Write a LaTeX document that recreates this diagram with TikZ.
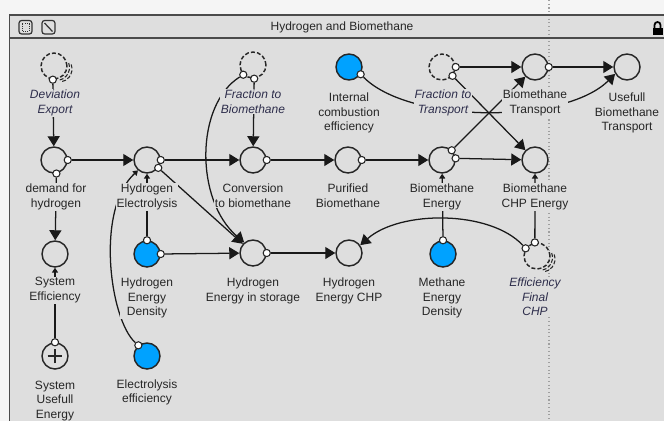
\documentclass[tikz,border=0pt]{standalone}
\usepackage{fontspec}
\setmainfont{Liberation Sans}
\usepackage{xcolor}
\usepackage{tikz}
\usetikzlibrary{arrows.meta}

\definecolor{canvas}{RGB}{222,222,222}
\definecolor{outside}{RGB}{245,245,245}
\definecolor{frameline}{RGB}{75,75,75}
\definecolor{valblue}{RGB}{0,162,255}
\definecolor{ghosttext}{RGB}{45,45,75}
\pgfdeclarelayer{bg}
\pgfdeclarelayer{edges}
\pgfsetlayers{bg,edges,main}
\newcommand{\lblfont}{\fontsize{9}{10.9}\selectfont}

\tikzset{
  var/.style={circle, draw=black!85, line width=1.1pt, minimum size=19.5pt, inner sep=0pt, fill=canvas},
  valvar/.style={var, fill=valblue},
  ghost/.style={var, dash pattern=on 3pt off 1.6pt},
  port/.style={circle, draw=black!85, line width=0.8pt, fill=white, minimum size=5.4pt, inner sep=0pt},
  lbl/.style={font=\lblfont, align=center, fill=canvas, inner sep=0.6pt, anchor=north, text=black!85},
  glbl/.style={lbl, font=\lblfont\itshape, text=ghosttext},
  link/.style={line width=0.95pt, draw=black!90, -{Triangle[length=7.5pt,width=9pt]}},
  slink/.style={line width=0.95pt, draw=black!90, -{Triangle[length=3.6pt,width=4.5pt]}},
  ghostarc/.style={line width=0.8pt, draw=black!85, dash pattern=on 3pt off 1.4pt},
}

\begin{document}
\begin{tikzpicture}[x=0.75pt, y=-0.75pt]
  \useasboundingbox (0,0) rectangle (664,421);

  % window frame
  \begin{pgfonlayer}{bg}
    \fill[outside] (0,0) rectangle (664,421);
    \fill[canvas] (9.5,15) rectangle (670,430);
    \draw[gray!75, line width=0.8pt, dotted] (549,0) -- (549,421);
    \draw[frameline, line width=1.2pt] (9.5,430) |- (670,15);
    \draw[frameline, line width=1.2pt] (9.5,38) -- (670,38);
  \end{pgfonlayer}
  \node[font=\lblfont, text=black!85] (title) at (342,27) {Hydrogen and Biomethane};
  \draw[black!80, line width=0.9pt, rounded corners=2pt] (19,20.5) rectangle (32,34);
  \draw[black!80, line width=0.6pt, densely dotted] (22,23.5) rectangle (29,31);
  \draw[black!80, line width=0.9pt, rounded corners=2pt] (42,20.5) rectangle (55,34);
  \draw[black!80, line width=0.9pt] (44.5,23) -- (52.5,31.5);
  \fill[black] (652.5,27.5) rectangle (662.5,35);
  \draw[black, line width=1.3pt] (654.5,28) -- (654.5,25) arc[start angle=180, end angle=360, radius=3] -- (660.5,28);

  % variables
  \node[ghost] (dev) at (54,66) {};
  \node[var] (demand) at (54,160) {};
  \node[var] (syseff) at (55,254) {};
  \node[var] (susE) at (55,356) {};
  \node[var] (elec) at (147,160) {};
  \node[valvar] (h2dens) at (147,254) {};
  \node[valvar] (eleff) at (147,356) {};
  \node[ghost] (fracbio) at (253,65) {};
  \node[var] (conv) at (253,160) {};
  \node[var] (storage) at (253,253) {};
  \node[valvar] (ice) at (349,67) {};
  \node[var] (purified) at (348,160) {};
  \node[var] (h2chp) at (349,253) {};
  \node[ghost] (fractr) at (442,67) {};
  \node[var] (bioE) at (442,160) {};
  \node[valvar] (methdens) at (443,254) {};
  \node[var] (bioT) at (535,67) {};
  \node[var] (bioCHP) at (535,160) {};
  \node[ghost] (effchp) at (537,256) {};
  \node[var] (useful) at (627,67) {};

  \draw[black!85, line width=1pt] ([xshift=-5.6pt]susE.center) -- ([xshift=5.6pt]susE.center);
  \draw[black!85, line width=1pt] ([yshift=-5.6pt]susE.center) -- ([yshift=5.6pt]susE.center);

  % ghost stacks
  \draw[ghostarc] ([shift={(2.5,1.5)}]dev.center) ++(-20:13) arc[start angle=-20, end angle=80, radius=13];
  \draw[ghostarc] ([shift={(5,3)}]dev.center) ++(-20:13) arc[start angle=-20, end angle=80, radius=13];
  \draw[ghostarc] ([shift={(2.5,1.5)}]effchp.center) ++(-20:13) arc[start angle=-20, end angle=80, radius=13];
  \draw[ghostarc] ([shift={(5,3)}]effchp.center) ++(-20:13) arc[start angle=-20, end angle=80, radius=13];

  % ports
  \node[port] (dev-s) at (dev.-95) {};
  \node[port] (demand-e) at (demand.0) {};
  \node[port] (demand-s) at (demand.-80) {};
  \node[port] (susE-n) at (susE.90) {};
  \node[port] (elec-e) at (elec.0) {};
  \node[port] (elec-se) at (elec.-35) {};
  \node[port] (h2dens-n) at (h2dens.90) {};
  \node[port] (h2dens-e) at (h2dens.0) {};
  \node[port] (eleff-p) at (eleff.129) {};
  \node[port] (fracbio-a) at (fracbio.-135) {};
  \node[port] (fracbio-b) at (fracbio.-85) {};
  \node[port] (conv-e) at (conv.0) {};
  \node[port] (storage-e) at (storage.0) {};
  \node[port] (ice-p) at (ice.-32) {};
  \node[port] (purified-e) at (purified.0) {};
  \node[port] (fractr-a) at (fractr.0) {};
  \node[port] (fractr-b) at (fractr.-40) {};
  \node[port] (bioE-a) at (bioE.45) {};
  \node[port] (bioE-b) at (bioE.7) {};
  \node[port] (methdens-n) at (methdens.90) {};
  \node[port] (bioT-e) at (bioT.0) {};
  \node[port] (effchp-a) at (effchp.146) {};
  \node[port] (effchp-b) at (effchp.99) {};

  % labels
  \node[glbl] (devL) at (55,89) {Deviation\\Export};
  \node[lbl] (demandL) at (56,183) {demand for\\hydrogen};
  \node[lbl] (syseffL) at (55,276.5) {System\\Efficiency};
  \node[lbl] (susEL) at (55,380) {System\\Usefull\\Energy};
  \node[lbl] (elecL) at (147,183) {Hydrogen\\Electrolysis};
  \node[lbl] (h2densL) at (147,277) {Hydrogen\\Energy\\Density};
  \node[lbl] (eleffL) at (147,378.5) {Electrolysis\\efficiency};
  \node[glbl] (fracbioL) at (253,89) {Fraction to\\Biomethane};
  \node[lbl] (convL) at (253,183) {Conversion\\to biomethane};
  \node[lbl] (storageL) at (253,277) {Hydrogen\\Energy in storage};
  \node[lbl] (iceL) at (349,92) {Internal\\combustion\\efficiency};
  \node[lbl] (purifiedL) at (348,183) {Purified\\Biomethane};
  \node[lbl] (h2chpL) at (349,277) {Hydrogen\\Energy CHP};
  \node[glbl] (fractrL) at (443,89) {Fraction to\\Transport};
  \node[lbl] (bioEL) at (442,183) {Biomethane\\Energy};
  \node[lbl] (methdensL) at (442,277) {Methane\\Energy\\Density};
  \node[lbl] (bioTL) at (535,89) {Biomethane\\Transport};
  \node[lbl] (bioCHPL) at (535,183) {Biomethane\\CHP Energy};
  \node[glbl] (effchpL) at (535,277) {Efficiency\\Final\\CHP};
  \node[lbl] (usefulL) at (627,92) {Usefull\\Biomethane\\Transport};

  % links
  \begin{pgfonlayer}{edges}
    \draw[link] (dev-s) -- (demand);
    \draw[link] (demand-e) -- (elec);
    \draw[link] (demand-s) -- (syseff);
    \draw[slink] (susE-n) -- (syseff);
    \draw[link] (elec-e) -- (conv);
    \draw[link] (elec-se) -- (storage);
    \draw[slink] (h2dens-n) -- (elec);
    \draw[link] (h2dens-e) -- (storage);
    \draw[slink] (eleff-p) .. controls (110,320) and (95,210) .. (elec.-131);
    \draw[link] (fracbio-b) -- (conv);
    \draw[link] (fracbio-a) .. controls (195,105) and (195,200) .. (storage.130);
    \draw[link] (conv-e) -- (purified);
    \draw[link] (purified-e) -- (bioE);
    \draw[link] (storage-e) -- (h2chp);
    \draw[link] (bioE-a) -- (bioT);
    \draw[link] (bioE-b) -- (bioCHP);
    \draw[slink] (methdens-n) -- (bioE);
    \draw[link] (fractr-a) -- (bioT);
    \draw[link] (fractr-b) -- (bioCHP);
    \draw[link] (bioT-e) -- (useful);
    \draw[link] (ice-p) .. controls (410,124) and (565,124) .. (useful.-150);
    \draw[slink] (effchp-b) -- (bioCHP);
    \draw[link] (effchp-a) .. controls (490,210) and (400,210) .. (h2chp.35);
  \end{pgfonlayer}
\end{tikzpicture}
\end{document}
